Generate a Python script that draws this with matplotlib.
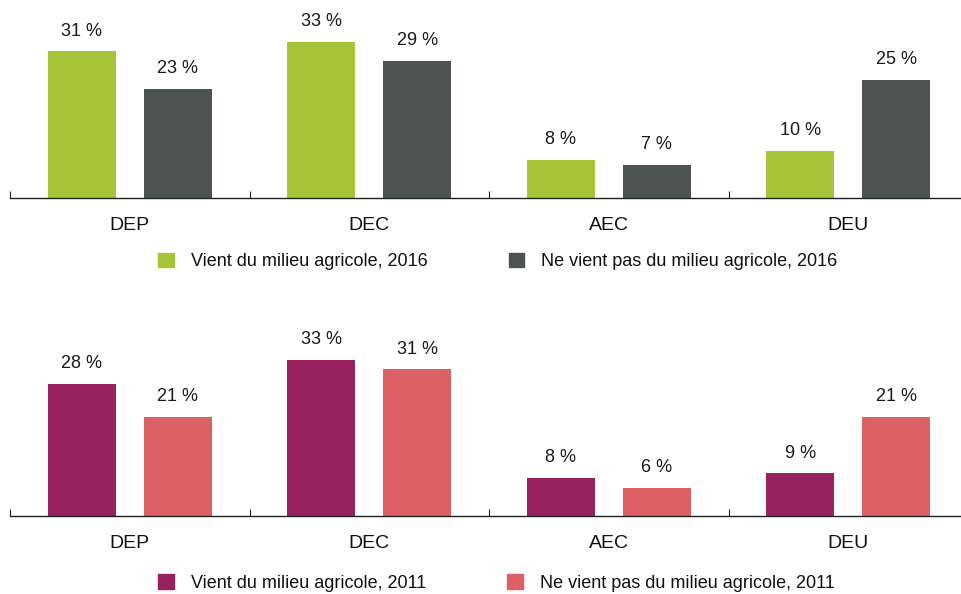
import matplotlib.pyplot as plt
from matplotlib.patches import Patch
import numpy as np

plt.rcParams['font.family'] = ['Liberation Sans', 'DejaVu Sans']

categories = ['DEP', 'DEC', 'AEC', 'DEU']
agri_2016 = [31, 33, 8, 10]
non_agri_2016 = [23, 29, 7, 25]
agri_2011 = [28, 33, 8, 9]
non_agri_2011 = [21, 31, 6, 21]

labels_2016 = ['Vient du milieu agricole, 2016', 'Ne vient pas du milieu agricole, 2016']
labels_2011 = ['Vient du milieu agricole, 2011', 'Ne vient pas du milieu agricole, 2011']

colors_2016 = ['#a6c437', '#4d5351']
colors_2011 = ['#97205e', '#dc6064']

fig = plt.figure(figsize=(9.61, 5.94), dpi=100)

W = 958 / 961
H = 189.2 / 594


def panel(bottom, s1, s2, colors, labels, leg_y):
    ax = fig.add_axes([10 / 961, bottom, W, H])
    x = np.arange(len(categories))
    w = 0.284
    b1 = ax.bar(x - 0.2, s1, w, color=colors[0])
    b2 = ax.bar(x + 0.2, s2, w, color=colors[1])
    for bars, vals in ((b1, s1), (b2, s2)):
        for b, v in zip(bars, vals):
            ax.text(b.get_x() + b.get_width() / 2, v + 2.5, f'{v} %',
                    ha='center', va='bottom', fontsize=13, color='#1a1a1a')
    ax.set_xlim(-0.5, 3.5)
    ax.set_ylim(0, 40)
    for s in ('top', 'right', 'left'):
        ax.spines[s].set_visible(False)
    ax.spines['bottom'].set_color('#222222')
    ax.spines['bottom'].set_linewidth(1)
    ax.set_yticks([])
    ax.set_xticks([-0.5, 0.5, 1.5, 2.5, 3.5])
    ax.set_xticklabels([])
    ax.tick_params(axis='x', which='major', direction='in', length=5, color='#222222')
    ax.set_xticks(x, minor=True)
    ax.set_xticklabels(categories, minor=True, fontsize=14, color='#111111')
    ax.tick_params(axis='x', which='minor', length=0, pad=14)
    handles = [Patch(color=colors[0]), Patch(color=colors[1])]
    ax.legend(handles, labels, ncol=2, loc='center left', frameon=False,
              bbox_to_anchor=(0.138, leg_y), fontsize=13, handlelength=0.85,
              handleheight=0.85, handletextpad=0.95, columnspacing=4.5,
              labelcolor='#111111')
    return ax


panel((594 - 198) / 594, agri_2016, non_agri_2016, colors_2016, labels_2016, -0.335)
panel((594 - 516) / 594, agri_2011, non_agri_2011, colors_2011, labels_2011, -0.355)

fig.savefig('out.png', dpi=100)
